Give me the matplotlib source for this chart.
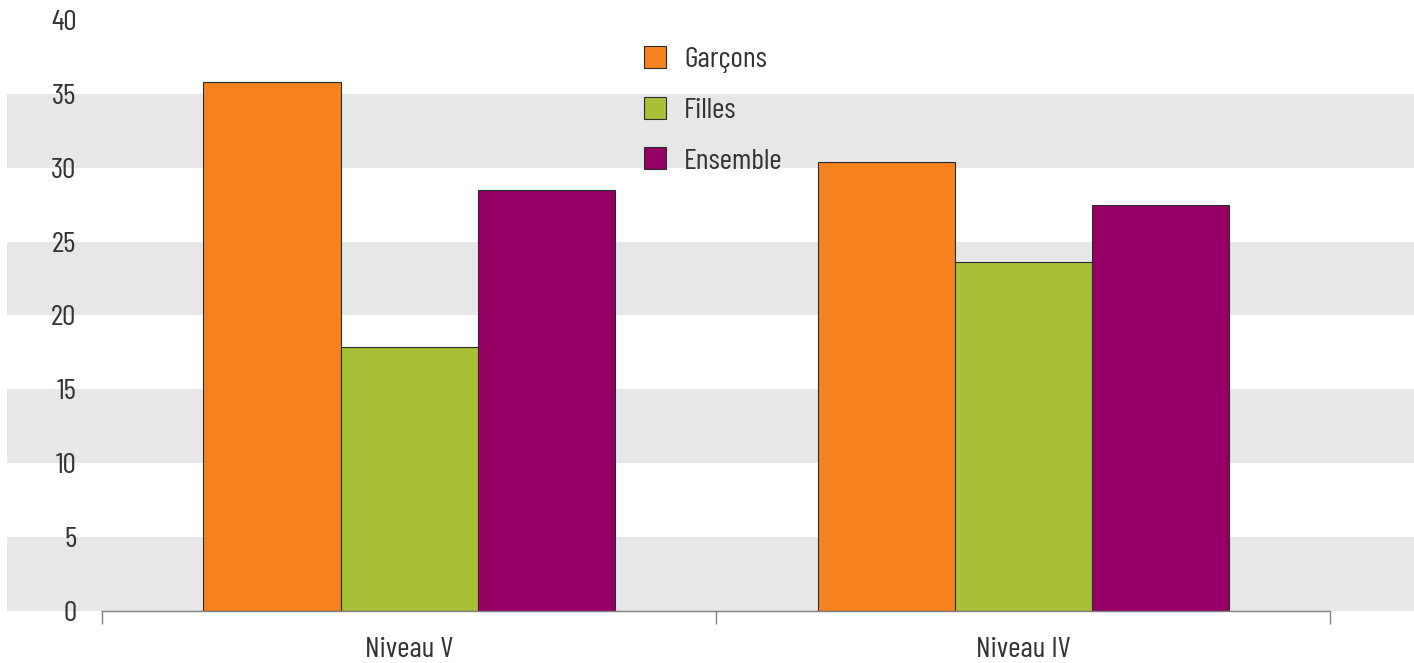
import matplotlib.pyplot as plt
import numpy as np

categories = ['Niveau V', 'Niveau IV']
series = ['Garçons', 'Filles', 'Ensemble']
garcons = [35.8, 30.4]
filles = [17.9, 23.6]
ensemble = [28.5, 27.5]
yticks = [0, 5, 10, 15, 20, 25, 30, 35, 40]

colors = ['#F5821F', '#A8BF38', '#960064']

plt.rcParams['font.family'] = ['Barlow Condensed', 'Liberation Sans Narrow', 'DejaVu Sans']
plt.rcParams['text.color'] = '#333333'

W, H = 1414, 663
fig = plt.figure(figsize=(W / 100, H / 100), dpi=100)
# axes spans from the left edge of the grey bands to the right edge of the image
ax = fig.add_axes([7 / W, (H - 611) / H, (W - 7) / W, (611 - 20) / H])

x = np.arange(len(categories))
bw = 137 / 614
for i, (vals, name) in enumerate(zip([garcons, filles, ensemble], series)):
    ax.bar(x + (i - 1) * bw, vals, bw, color=colors[i], edgecolor='#2b2b2b',
           linewidth=0.8, label=name, zorder=3)

# alternating grey bands
for lo in range(0, 40, 10):
    ax.axhspan(lo, lo + 5, color='#E6E7E8', zorder=0, linewidth=0)

ax.set_xlim((7 - 409) / 614, (W - 409) / 614)
ax.set_ylim(0, 40)

ax.set_yticks(yticks)
ax.tick_params(axis='y', length=0, pad=-50, labelsize=21.5, labelcolor='#333333')
for t in ax.get_yticklabels():
    t.set_horizontalalignment('right')

ax.set_xticks([-0.5, 0.5, 1.5])
ax.set_xticklabels([])
ax.set_xticks(x, minor=True)
ax.set_xticklabels(categories, minor=True)
ax.tick_params(axis='x', which='major', length=9, width=1, color='#808080', direction='out')
ax.tick_params(axis='x', which='minor', length=0, pad=19, labelsize=21.5, labelcolor='#333333')

for s in ['top', 'right', 'left']:
    ax.spines[s].set_visible(False)
ax.spines['bottom'].set_bounds(-0.5, 1.5)
ax.spines['bottom'].set_color('#808080')
ax.spines['bottom'].set_linewidth(1)
ax.spines['bottom'].set_zorder(4)

leg = ax.legend(loc='upper left', bbox_to_anchor=(644 / W, 1 - 46 / H),
                bbox_transform=fig.transFigure, frameon=False, fontsize=21.5,
                handlelength=0.75, handleheight=0.75, labelspacing=0.78,
                handletextpad=0.6, borderaxespad=0, borderpad=0)
for t in leg.get_texts():
    t.set_color('#333333')

fig.savefig('out.png', dpi=100)
